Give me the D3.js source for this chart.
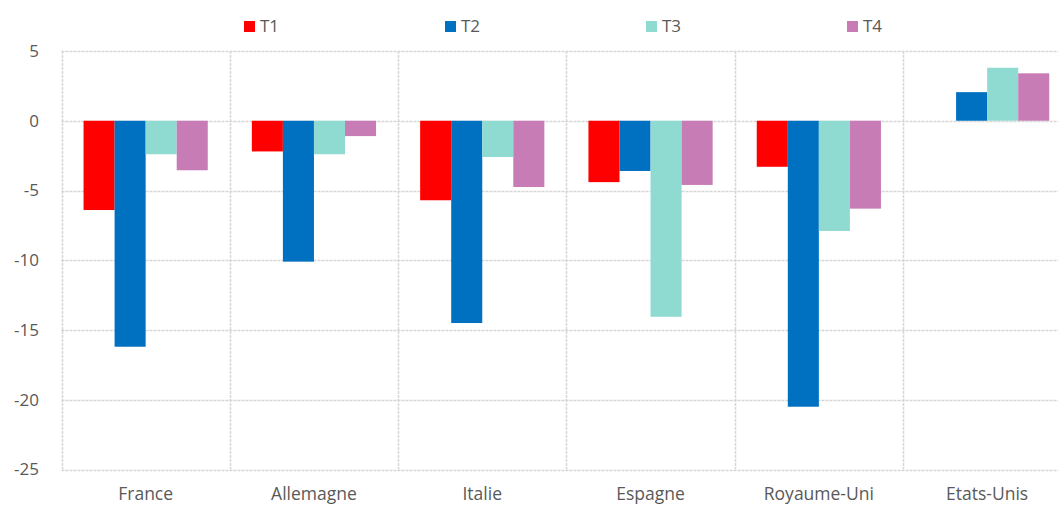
<!DOCTYPE html>
<html>
<head>
<meta charset="utf-8">
<script src="https://cdn.jsdelivr.net/npm/d3@7"></script>
<style>
  body { margin: 0; background: #fff; }
  svg { display: block; font-family: "Open Sans", sans-serif; }
</style>
</head>
<body>
<div id="chart"></div>
<script>
// data
var countries = ["France", "Allemagne", "Italie", "Espagne", "Royaume-Uni", "Etats-Unis"];
var seriesNames = ["T1", "T2", "T3", "T4"];
var t1 = [-6.4, -2.2, -5.7, -4.4, -3.3, 0];
var t2 = [-16.2, -10.1, -14.5, -3.6, -20.5, 2.05];
var t3 = [-2.4, -2.4, -2.6, -14.05, -7.9, 3.8];
var t4 = [-3.55, -1.1, -4.75, -4.6, -6.3, 3.4];
var yTicks = [5, 0, -5, -10, -15, -20, -25];
var colors = ["#ff0000", "#0070c0", "#8fdbd2", "#c77cb5"];

var allSeries = [t1, t2, t3, t4];

var width = 1058, height = 506;
var svg = d3.select("#chart").append("svg").attr("width", width).attr("height", height);

var left = 61.5, catW = 168.3;
var x = d3.scaleBand().domain(countries).range([left, left + catW * countries.length]);
var inner = d3.scaleBand().domain(seriesNames).range([0, catW]).paddingInner(0).paddingOuter(0.71);
var y = d3.scaleLinear().domain([-25, 5]).range([469.5, 51]);

var grid = svg.append("g");
// horizontal gridlines
grid.selectAll("line.h").data(yTicks).enter().append("line")
    .attr("x1", left).attr("x2", width)
    .attr("y1", function(d) { return Math.round(y(d)) + 0.5; })
    .attr("y2", function(d) { return Math.round(y(d)) + 0.5; })
    .attr("stroke", "#d6d6d6").attr("stroke-width", 1.5).attr("stroke-dasharray", "3,1");
// vertical category separators
var seps = countries.map(function(c) { return x(c); });
grid.selectAll("line.v").data(seps).enter().append("line")
    .attr("x1", function(d) { return Math.round(d) + 0.5; })
    .attr("x2", function(d) { return Math.round(d) + 0.5; })
    .attr("y1", y(5)).attr("y2", y(-25))
    .attr("stroke", "#d6d6d6").attr("stroke-width", 1.5).attr("stroke-dasharray", "3,1");

// bars
allSeries.forEach(function(vals, si) {
    svg.append("g").selectAll("rect").data(vals).enter().append("rect")
        .attr("x", function(d, i) { return x(countries[i]) + inner(seriesNames[si]); })
        .attr("width", inner.bandwidth())
        .attr("y", function(d) { return y(Math.max(0, d)); })
        .attr("height", function(d) { return Math.abs(y(d) - y(0)); })
        .attr("fill", colors[si]);
});

// y axis labels
svg.append("g").selectAll("text").data(yTicks).enter().append("text")
    .attr("x", 39).attr("y", function(d) { return y(d); })
    .attr("dy", "0.35em").attr("text-anchor", "end")
    .attr("fill", "#595959").style("font-size", "17px")
    .text(function(d) { return d; });

// x axis labels
svg.append("g").selectAll("text").data(countries).enter().append("text")
    .attr("x", function(d) { return x(d) + catW / 2; })
    .attr("y", 500).attr("text-anchor", "middle")
    .attr("fill", "#595959").style("font-size", "17.5px")
    .text(function(d) { return d; });

// legend
var legend = svg.append("g").selectAll("g").data(seriesNames).enter().append("g")
    .attr("transform", function(d, i) { return "translate(" + (244 + i * 201) + ",21)"; });
legend.append("rect").attr("width", 11).attr("height", 11)
    .attr("fill", function(d, i) { return colors[i]; });
legend.append("text").attr("x", 16).attr("y", 5.5).attr("dy", "0.35em")
    .attr("fill", "#595959").style("font-size", "17px")
    .text(function(d) { return d; });
</script>
</body>
</html>
